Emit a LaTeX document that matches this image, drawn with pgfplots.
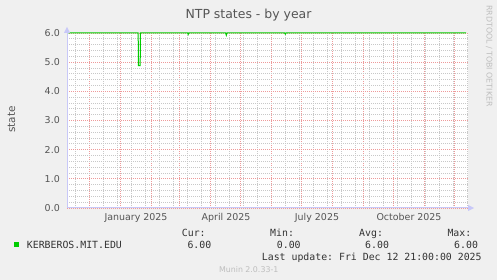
\documentclass[border=0pt]{standalone}
\usepackage{fontspec}
\setmainfont{DejaVu Sans}
\setmonofont{DejaVu Sans Mono}
\usepackage{pgfplots}
\pgfplotsset{compat=1.18}
\usetikzlibrary{arrows.meta}
\definecolor{bgc}{HTML}{F0F0F0}
\definecolor{txt}{HTML}{555555}
\definecolor{leg}{HTML}{333333}
\definecolor{axc}{HTML}{C8C8F8}
\definecolor{ser}{HTML}{00CC00}
\definecolor{mgrid}{HTML}{EE9A9A}
\definecolor{mingrid}{HTML}{C8C8C8}
\definecolor{faint}{HTML}{BEBEBE}
\begin{document}
\begin{tikzpicture}
\fill[bgc] (0,0) rectangle (497bp,280bp);
\useasboundingbox (0,0) rectangle (497bp,280bp);
\begin{axis}[
  at={(67bp,72bp)}, anchor=south west, scale only axis,
  width=401bp, height=175bp,
  xmin=-53, xmax=348, ymin=0, ymax=6,
  clip=false,
  axis background/.style={fill=white},
  axis line style={draw=none},
  xtick={-31,0,31,59,90,120,151,181,212,243,273,304,334},
  xticklabels={},
  minor xtick={-45,-31,...,347},
  ytick={0,1,2,3,4,5,6},
  yticklabels={0.0,1.0,2.0,3.0,4.0,5.0,6.0},
  minor ytick={0.2,0.4,0.6,0.8,1.2,1.4,1.6,1.8,2.2,2.4,2.6,2.8,3.2,3.4,3.6,3.8,4.2,4.4,4.6,4.8,5.2,5.4,5.6,5.8},
  grid=both,
  major grid style={mgrid, dash pattern=on 1bp off 1bp, line width=0.9bp},
  minor grid style={mingrid, dash pattern=on 1bp off 1bp, line width=0.9bp},
  major tick length=0pt, minor tick length=0pt,
  extra x ticks={16,106,197,289},
  extra x tick labels={January 2025,April 2025,July 2025,October 2025},
  extra x tick style={grid=none},
  /pgf/number format/assume math mode=true,
  tick label style={font=\fontsize{9.5}{10}\selectfont, text=txt},
  xticklabel style={anchor=north, inner sep=0pt, yshift=-5bp},
  yticklabel style={anchor=east, inner sep=0pt, xshift=-7bp},
]
\addplot[ser, line width=1bp] coordinates {
 (-53,6) (18.2,6) (18.4,4.88) (20.2,4.88) (20.4,6)
 (67.6,6) (68.2,5.95) (68.8,6)
 (105.6,6) (106.3,5.92) (107,6)
 (164.6,6) (165.3,5.96) (166,6) (346,6)};
\end{axis}
% axes with arrows
\draw[axc, line width=1bp] (67bp,72bp) -- (469bp,72bp);
\fill[axc] (468bp,69bp) -- (474bp,72bp) -- (468bp,75bp) -- cycle;
\draw[axc, line width=1bp] (67bp,72bp) -- (67bp,248bp);
\fill[axc] (64bp,247bp) -- (67bp,253bp) -- (70bp,247bp) -- cycle;
% title and labels
\node[anchor=base, inner sep=0pt, text=txt, font=\fontsize{12.5}{14}\selectfont] at (248.5bp,261.5bp) {NTP states - by year};
\node[anchor=base, rotate=90, inner sep=0pt, text=txt, font=\fontsize{10.5}{12}\selectfont] at (15bp,160.5bp) {state};
\node[anchor=base, rotate=-90, inner sep=0pt, text=faint, font=\fontsize{7.9}{9}\selectfont] at (486.7bp,224bp) {RRDTOOL / TOBI OETIKER};
% legend
\fill[ser] (14bp,33.3bp) rectangle (19bp,38.3bp);
\begin{scope}[every node/.style={anchor=base west, inner sep=0pt, text=leg, font=\ttfamily\fontsize{9.9}{11}\selectfont}]
\node at (181.7bp,43.5bp) {Cur:};
\node at (270bp,43.5bp) {Min:};
\node at (359bp,43.5bp) {Avg:};
\node at (447.3bp,43.5bp) {Max:};
\node at (26.7bp,32bp) {KERBEROS.MIT.EDU};
\node at (187.3bp,32bp) {6.00};
\node at (276.7bp,32bp) {0.00};
\node at (365bp,32bp) {6.00};
\node at (454bp,32bp) {6.00};
\node at (261.7bp,19.5bp) {Last update: Fri Dec 12 21:00:00 2025};
\end{scope}
\node[anchor=base, inner sep=0pt, text=faint, font=\fontsize{7.9}{9}\selectfont] at (248.7bp,8bp) {Munin 2.0.33-1};
\end{tikzpicture}
\end{document}
